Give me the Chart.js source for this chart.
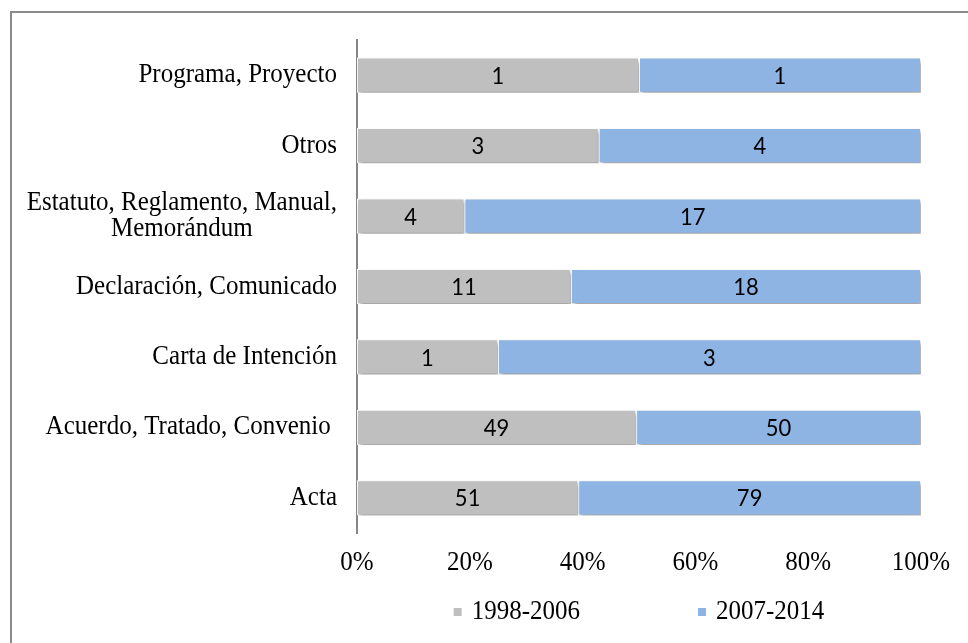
<!DOCTYPE html>
<html>
<head>
<meta charset="utf-8">
<script src="https://cdn.jsdelivr.net/npm/chart.js@4/dist/chart.umd.min.js"></script>
<style>
  body { margin: 0; background: #fff; }
  #wrap { width: 968px; height: 643px; }
</style>
</head>
<body>
<div id="wrap"><canvas id="docChart" width="968" height="643"></canvas></div>
<script>
// document types, top to bottom
const categories = [
    'Programa, Proyecto',
    'Otros',
    ['Estatuto, Reglamento, Manual,', 'Memorándum'],
    'Declaración, Comunicado',
    'Carta de Intención',
    'Acuerdo, Tratado, Convenio ',
    'Acta'
];
const seriesNames = ['1998-2006', '2007-2014'];
const counts1998 = [1, 3, 4, 11, 1, 49, 51];
const counts2007 = [1, 4, 17, 18, 3, 50, 79];
const xTicks = [0, 20, 40, 60, 80, 100];
const colors = ['#bfbfbf', '#8eb4e3'];

const SERIF = '"Liberation Serif", "Times New Roman", serif';
const STRETCH = 1.08; // source picture is a bit taller than wide

// 100% stacked: share of each period per row
const share = (a, b) => a.map((v, i) => v / (v + b[i]) * 100);
const counts = [counts1998, counts2007];

function tallText(c, s, x, y) {
    c.save();
    c.translate(x, y);
    c.scale(1, STRETCH);
    c.fillText(s, 0, 0);
    c.restore();
}

const framePlugin = {
    id: 'frame',
    beforeDraw(chart) {
        const c = chart.ctx;
        c.save();
        c.strokeStyle = '#8a8a8a';
        c.lineWidth = 2;
        c.beginPath();
        c.moveTo(11, chart.height);
        c.lineTo(11, 12);
        c.lineTo(chart.width, 12);
        c.stroke();
        c.restore();
    }
};

// Excel-ish drop shadow under bars
const shadowPlugin = {
    id: 'barShadow',
    beforeDatasetsDraw(chart) {
        const c = chart.ctx;
        c.save();
        c.shadowColor = 'rgba(0,0,0,0.38)';
        c.shadowBlur = 4;
        c.shadowOffsetX = 2;
        c.shadowOffsetY = 3;
    },
    afterDatasetsDraw(chart) {
        chart.ctx.restore();
    }
};

const labelsPlugin = {
    id: 'barLabels',
    afterDatasetsDraw(chart) {
        const c = chart.ctx;
        c.save();
        c.font = '22px Lato, "Liberation Sans", sans-serif';
        c.fillStyle = '#000';
        c.textAlign = 'center';
        c.textBaseline = 'middle';
        chart.data.datasets.forEach((ds, d) => {
            chart.getDatasetMeta(d).data.forEach((bar, i) => {
                tallText(c, String(counts[d][i]), (bar.x + bar.base) / 2, bar.y + 1);
            });
        });
        c.restore();
    }
};

// category labels: single lines right aligned, wrapped ones centred on each other
const axisTextPlugin = {
    id: 'axisText',
    afterDraw(chart) {
        const c = chart.ctx;
        const y = chart.scales.y;
        const x = chart.scales.x;
        const right = chart.chartArea.left - 20;
        c.save();
        c.font = '25px ' + SERIF;
        c.fillStyle = '#000';
        c.textBaseline = 'middle';
        categories.forEach((lab, i) => {
            const yc = y.getPixelForValue(i);
            if (Array.isArray(lab)) {
                const w = Math.max(...lab.map(s => c.measureText(s).width));
                const cx = right - w / 2;
                const lh = 26;
                c.textAlign = 'center';
                lab.forEach((s, k) => {
                    tallText(c, s, cx, yc + (k - (lab.length - 1) / 2) * lh);
                });
            } else {
                c.textAlign = 'right';
                tallText(c, lab, right, yc);
            }
        });
        c.textAlign = 'center';
        xTicks.forEach(v => {
            tallText(c, v + '%', x.getPixelForValue(v), 563);
        });
        c.restore();
    }
};

const legendPlugin = {
    id: 'bottomLegend',
    afterDraw(chart) {
        const c = chart.ctx;
        const ca = chart.chartArea;
        c.save();
        c.font = '25px ' + SERIF;
        c.textBaseline = 'middle';
        c.textAlign = 'left';
        const box = 8, gap = 10, between = 118;
        const widths = seriesNames.map(s => box + gap + c.measureText(s).width);
        const total = widths.reduce((a, b) => a + b, 0) + between * (widths.length - 1);
        let x = (ca.left + ca.right) / 2 - total / 2;
        const yc = 612;
        seriesNames.forEach((s, i) => {
            c.fillStyle = colors[i];
            c.fillRect(x, yc - box / 2, box, box);
            c.fillStyle = '#000';
            tallText(c, s, x + box + gap, yc);
            x += widths[i] + between;
        });
        c.restore();
    }
};

new Chart(document.getElementById('docChart'), {
    type: 'bar',
    data: {
        labels: categories,
        datasets: seriesNames.map((name, d) => ({
            label: name,
            data: share(counts[d], counts[1 - d]),
            backgroundColor: colors[d],
            borderColor: '#ffffff',
            borderWidth: 1,
            borderSkipped: false,
            barPercentage: 0.5,
            categoryPercentage: 1.0
        }))
    },
    options: {
        indexAxis: 'y',
        responsive: false,
        animation: false,
        layout: { padding: { top: 40, right: 47, left: 0, bottom: 0 } },
        plugins: {
            legend: { display: false },
            tooltip: { enabled: false }
        },
        scales: {
            x: {
                stacked: true,
                min: 0,
                max: 100,
                afterFit(scale) { scale.height = 110; },
                grid: { display: false, drawTicks: false },
                border: { display: false },
                ticks: { display: false }
            },
            y: {
                stacked: true,
                afterFit(scale) { scale.width = 357; },
                grid: { display: false, drawTicks: false },
                border: { display: true, color: '#868686', width: 2 },
                ticks: { display: false }
            }
        }
    },
    plugins: [framePlugin, shadowPlugin, labelsPlugin, axisTextPlugin, legendPlugin]
});
</script>
</body>
</html>
